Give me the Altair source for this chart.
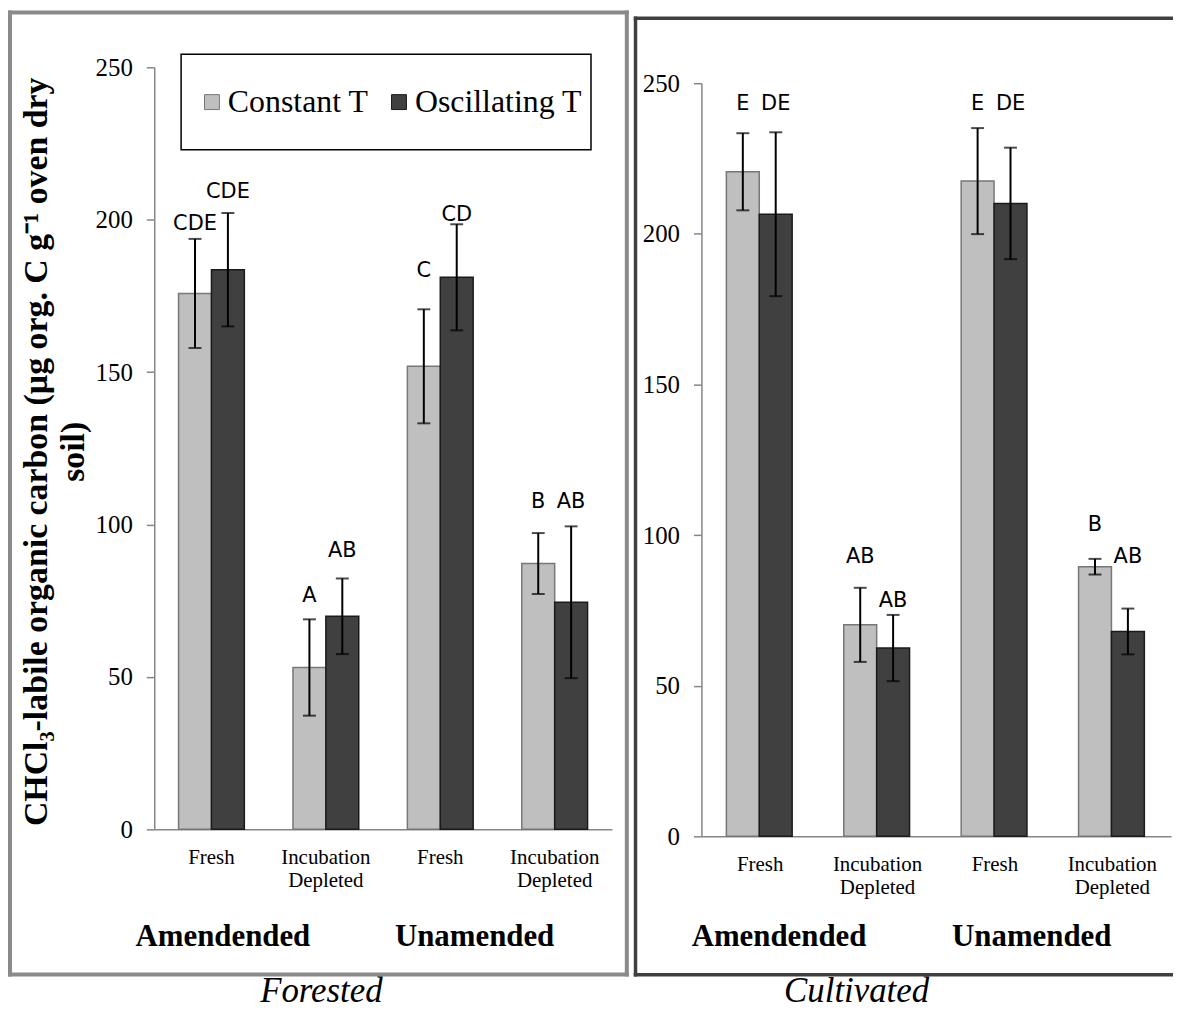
import altair as alt
import pandas as pd

# ---------------- data ----------------
categories = ["Amended Fresh", "Amended Depleted", "Unamended Fresh", "Unamended Depleted"]
series = ["Constant T", "Oscillating T"]

forested_constant = [175.8, 53.1, 151.9, 87.2]
forested_constant_err = [17.9, 15.8, 18.7, 10.0]
forested_oscillating = [183.6, 69.9, 181.1, 74.5]
forested_oscillating_err = [18.6, 12.4, 17.4, 24.9]
forested_letters_constant = ["CDE", "A", "C", "B"]
forested_letters_oscillating = ["CDE", "AB", "CD", "AB"]
forested_letter_y_constant = [196.6, 74.5, 181.1, 105.4]
forested_letter_y_oscillating = [207.0, 89.5, 199.7, 105.4]

cultivated_constant = [220.6, 70.2, 217.5, 89.5]
cultivated_constant_err = [12.8, 12.3, 17.6, 2.6]
cultivated_oscillating = [206.5, 62.5, 210.1, 68.0]
cultivated_oscillating_err = [27.2, 11.0, 18.5, 7.6]
cultivated_letters_constant = ["E", "AB", "E", "B"]
cultivated_letters_oscillating = ["DE", "AB", "DE", "AB"]
cultivated_letter_y_constant = [241.0, 90.8, 241.0, 101.5]
cultivated_letter_y_oscillating = [241.0, 76.0, 241.0, 90.7]

y_ticks = [0, 50, 100, 150, 200, 250]
y_title = ["CHCl\u2083-labile organic carbon (\u00b5g org. C g\u207b\u00b9 oven dry", "soil)"]

LIGHT = "#bfbfbf"
DARK = "#404040"
AXIS_GRAY = "#868686"
SERIF = "Liberation Serif"
LETTER_FONT = "DejaVu Sans"


def build(const, const_err, osc, osc_err, l_c, l_o, ly_c, ly_o):
    rows = []
    for i, c in enumerate(categories):
        rows.append(dict(cat=c, series=series[0], value=const[i], lo=const[i] - const_err[i],
                         hi=const[i] + const_err[i], letter=l_c[i], ly=ly_c[i]))
        rows.append(dict(cat=c, series=series[1], value=osc[i], lo=osc[i] - osc_err[i],
                         hi=osc[i] + osc_err[i], letter=l_o[i], ly=ly_o[i]))
    return pd.DataFrame(rows)


forested_df = build(forested_constant, forested_constant_err, forested_oscillating,
                    forested_oscillating_err, forested_letters_constant,
                    forested_letters_oscillating, forested_letter_y_constant,
                    forested_letter_y_oscillating)
cultivated_df = build(cultivated_constant, cultivated_constant_err, cultivated_oscillating,
                      cultivated_oscillating_err, cultivated_letters_constant,
                      cultivated_letters_oscillating, cultivated_letter_y_constant,
                      cultivated_letter_y_oscillating)

one = pd.DataFrame({"k": [0]})

label_expr = "indexof(datum.value, 'Fresh') >= 0 ? 'Fresh' : ['Incubation', 'Depleted']"


def box(x1, x2, y1, y2, color):
    return alt.Chart(one).mark_rect(color=color, strokeWidth=0).encode(
        x=alt.value(x1), x2=alt.value(x2), y=alt.value(y1), y2=alt.value(y2))


def frame_layers(x1, x2, y1, y2, t, color, right_edge=True):
    # outer edges x1..x2, y1..y2 ; thickness t (filled bands -> exact bounds)
    layers = [box(x1, x2, y1, y1 + t, color), box(x1, x2, y2 - t, y2, color),
              box(x1, x1 + t, y1, y2, color)]
    if right_edge:
        layers.append(box(x2 - t, x2, y1, y2, color))
    return layers


def panel(df, width, height, y_range, y_axis, legend, frame, group_x, group_y,
          caption, caption_x, caption_y, extra=None):
    x_enc = alt.X("cat:N", scale=alt.Scale(domain=categories, paddingInner=0.425, paddingOuter=0.2125),
                  axis=alt.Axis(title=None, labelExpr=label_expr, labelAngle=0, ticks=False,
                                labelFont=SERIF, labelFontSize=21, labelColor="black",
                                labelPadding=17, labelLineHeight=23, labelBaseline="top",
                                domainColor=AXIS_GRAY, domainWidth=1.5))
    xo = alt.XOffset("series:N", scale=alt.Scale(domain=series, paddingInner=0, paddingOuter=0))
    y_scale = alt.Scale(domain=[0, 250], nice=False, zero=True, range=y_range)

    base = alt.Chart(df)
    bars = base.mark_bar(strokeWidth=1.5).encode(
        x=x_enc,
        xOffset=xo,
        y=alt.Y("value:Q", scale=y_scale, axis=y_axis),
        color=alt.Color("series:N", scale=alt.Scale(domain=series, range=[LIGHT, DARK]), legend=legend),
        stroke=alt.Stroke("series:N", scale=alt.Scale(domain=series, range=["#777777", "#1a1a1a"]), legend=None),
    )
    rules = base.mark_rule(color="black", strokeWidth=2).encode(
        x="cat:N", xOffset=xo, y=alt.Y("lo:Q", scale=y_scale), y2="hi:Q")
    cap_lo = base.mark_tick(color="black", thickness=2, size=13).encode(
        x="cat:N", xOffset=xo, y=alt.Y("lo:Q", scale=y_scale))
    cap_hi = base.mark_tick(color="black", thickness=2, size=13).encode(
        x="cat:N", xOffset=xo, y=alt.Y("hi:Q", scale=y_scale))
    letters = base.mark_text(font=LETTER_FONT, fontSize=21, color="black", align="center",
                             baseline="alphabetic").encode(
        x="cat:N", xOffset=xo, y=alt.Y("ly:Q", scale=y_scale), text="letter:N")

    g1 = alt.Chart(one).mark_text(text="Amendended", font=SERIF, fontSize=31, fontWeight="bold",
                                  color="black", align="center", baseline="alphabetic").encode(
        x=alt.value(group_x[0]), y=alt.value(group_y))
    g2 = alt.Chart(one).mark_text(text="Unamended", font=SERIF, fontSize=31, fontWeight="bold",
                                  color="black", align="center", baseline="alphabetic").encode(
        x=alt.value(group_x[1]), y=alt.value(group_y))
    cap = alt.Chart(one).mark_text(text=caption, font=SERIF, fontSize=35, fontStyle="italic",
                                   color="black", align="center", baseline="alphabetic").encode(
        x=alt.value(caption_x), y=alt.value(caption_y))

    layers = list(frame)
    if extra is not None:
        layers += extra
    layers += [bars, rules, cap_lo, cap_hi, letters, g1, g2, cap]
    return alt.layer(*layers).properties(width=width, height=height)


left_axis = alt.Axis(values=y_ticks, grid=False, domainColor=AXIS_GRAY, domainWidth=1.5,
                     tickColor=AXIS_GRAY, tickWidth=1.5, tickSize=8,
                     labelFont=SERIF, labelFontSize=25, labelColor="black", labelPadding=14,
                     title=y_title, titleFont=SERIF, titleFontSize=34, titleFontWeight="bold",
                     titleColor="black", titleAngle=270, titleAlign="center",
                     titleBaseline="alphabetic", titleX=-108, titleY=386, titleLineHeight=37)
right_axis = alt.Axis(values=y_ticks, grid=False, domainColor=AXIS_GRAY, domainWidth=1.5,
                      tickColor=AXIS_GRAY, tickWidth=1.5, tickSize=8,
                      labelFont=SERIF, labelFontSize=25, labelColor="black", labelPadding=14,
                      title=None)

legend = alt.Legend(orient="none", legendX=42, legendY=19, direction="horizontal", title=None,
                    symbolType="square", symbolSize=225, symbolStrokeColor="black",
                    symbolStrokeWidth=1, labelFont=SERIF, labelFontSize=32, labelColor="black",
                    labelOffset=0, columnPadding=14, padding=0, labelLimit=400)

legend_box = alt.Chart(one).mark_rect(fill="transparent", stroke="black", strokeWidth=1.5).encode(
    x=alt.value(27), x2=alt.value(439), y=alt.value(-13), y2=alt.value(83))

# both plot areas share the same top (page y 65); the right one's scale starts lower
left = panel(forested_df, 460, 766, [766, 0], left_axis, legend,
             frame=frame_layers(-147, 477, -57, 914, 4, "#8a8a8a"),
             group_x=(69, 322), group_y=883, caption="Forested", caption_x=168, caption_y=940,
             extra=[legend_box])

right = panel(cultivated_df, 472, 773, [773, 16], right_axis, None,
              frame=frame_layers(-68, 474, -51, 914, 3.5, "#404040", right_edge=False),
              group_x=(78, 332), group_y=883, caption="Cultivated", caption_x=156, caption_y=940)

chart = alt.hconcat(left, right, spacing=5, bounds="full").resolve_scale(
    color="independent", stroke="independent", x="independent", y="independent"
).properties(padding=0, background="white").configure_view(stroke=None)

chart.save("out.html", embed_options={"renderer": "svg", "actions": False})
